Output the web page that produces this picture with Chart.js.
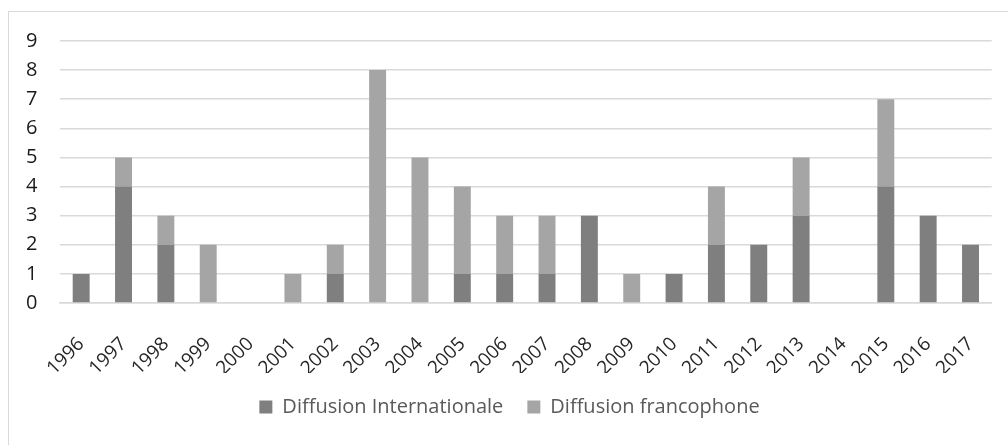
<!DOCTYPE html>
<html>
<head>
<meta charset="utf-8">
<script src="https://cdn.jsdelivr.net/npm/chart.js@4"></script>
<style>
  html, body { margin: 0; padding: 0; background: #fff; overflow: hidden; }
  #frame {
    position: absolute; left: 8px; top: 11px;
    width: 1010px; height: 470px;
    border: 1px solid #d9d9d9;
  }
  #wrap { position: absolute; left: 0; top: 0; width: 1000px; height: 433px; }
</style>
</head>
<body>
<div id="frame">
  <div id="wrap"><canvas id="chart"></canvas></div>
</div>
<script>
const years = ['1996', '1997', '1998', '1999', '2000', '2001', '2002', '2003', '2004', '2005', '2006',
               '2007', '2008', '2009', '2010', '2011', '2012', '2013', '2014', '2015', '2016', '2017'];
const internationale = [1, 4, 2, 0, 0, 0, 1, 0, 0, 1, 1, 1, 3, 0, 1, 2, 2, 3, 0, 4, 3, 2];
const francophone    = [0, 1, 1, 2, 0, 1, 1, 8, 5, 3, 2, 2, 0, 1, 0, 2, 0, 2, 0, 3, 0, 0];

const font = 'Open Sans, sans-serif';

new Chart(document.getElementById('chart'), {
    type: 'bar',
    data: {
        labels: years,
        datasets: [
            {
                label: 'Diffusion Internationale',
                data: internationale,
                backgroundColor: '#7f7f7f',
                borderWidth: 0,
                barPercentage: 0.4,
                categoryPercentage: 1,
            },
            {
                label: 'Diffusion francophone',
                data: francophone,
                backgroundColor: '#a5a5a5',
                borderWidth: 0,
                barPercentage: 0.4,
                categoryPercentage: 1,
            },
        ],
    },
    options: {
        responsive: true,
        maintainAspectRatio: false,
        animation: false,
        // left padding places the y labels; tick padding would also push the top down
        layout: { padding: { top: 29, right: 16, left: 17, bottom: 18 } },
        plugins: {
            legend: {
                position: 'bottom',
                labels: {
                    boxWidth: 13, boxHeight: 13, padding: 24,
                    font: { family: font, size: 20 }, color: '#595959',
                },
            },
            tooltip: { enabled: false },
        },
        scales: {
            x: {
                stacked: true,
                grid: { display: false },
                border: { color: '#d9d9d9', width: 1.5 },
                ticks: {
                    font: { family: font, size: 19 }, color: '#262626',
                    minRotation: 45, maxRotation: 45, autoSkip: false, padding: 22,
                },
                afterFit: (s) => { s.height = 70; },
            },
            y: {
                stacked: true,
                min: 0, max: 9,
                grid: { color: '#d9d9d9', lineWidth: 1.5, drawTicks: false },
                border: { display: false },
                ticks: {
                    stepSize: 1, padding: 0, crossAlign: 'far',
                    font: { family: font, size: 20 }, color: '#1a1a1a',
                },
                afterFit: (s) => { s.width = 34; },
            },
        },
    },
});
</script>
</body>
</html>
